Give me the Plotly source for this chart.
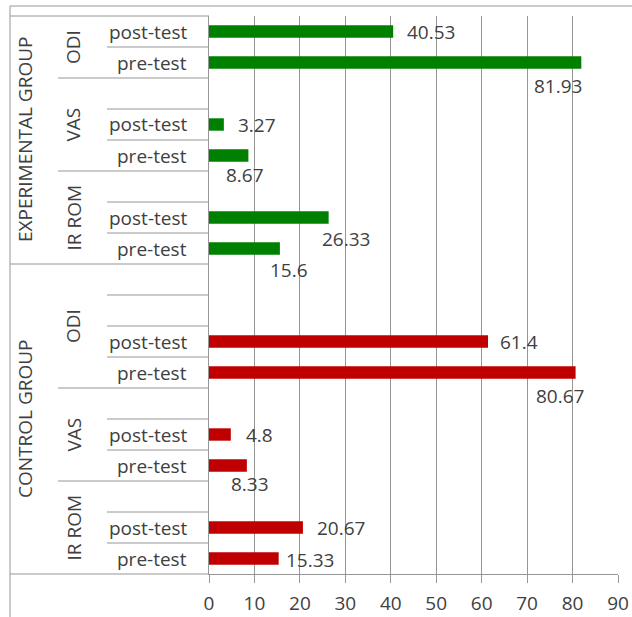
import plotly.graph_objects as go

# Three-level category axis, listed top to bottom
groups = ["EXPERIMENTAL GROUP"] * 8 + ["CONTROL GROUP"] * 10
measures = ["ODI", "ODI", "VAS", "VAS", "VAS", "IR ROM", "IR ROM", "IR ROM",
            "ODI", "ODI", "ODI", "ODI", "VAS", "VAS", "VAS", "IR ROM", "IR ROM", "IR ROM"]
phases = ["post-test", "pre-test", "", "post-test", "pre-test", "", "post-test", "pre-test",
          "", "", "post-test", "pre-test", "", "post-test", "pre-test", "", "post-test", "pre-test"]
values = [40.53, 81.93, None, 3.27, 8.67, None, 26.33, 15.6,
          None, None, 61.4, 80.67, None, 4.8, 8.33, None, 20.67, 15.33]
x_ticks = [0, 10, 20, 30, 40, 50, 60, 70, 80, 90]

# Styling
group_colors = {"EXPERIMENTAL GROUP": "#008000", "CONTROL GROUP": "#C00000"}
# value-label offsets in pixels from the bar end: (dx of label centre, dy downward)
label_offsets = [(38, 0), (-23, 23), None, (33, 0), (-3, 19), None, (17, 21), (9, 21),
                 None, None, (31, 0), (-16, 23), None, (29, 0), (3, 18), None, (38, 0), (31, 1)]

W, H = 632, 617
L, R, T, B = 209, 618, 16, 574
FONT = "Open Sans"
TXT = "#404040"
LINE = "#969696"
FS = 19

n = len(values)
rows = list(range(n))


def xp(px):
    return (px - L) / (R - L)


def yp(py):
    return (B - py) / (B - T)


fig = go.Figure(go.Bar(
    x=values, y=rows, orientation="h", width=0.4,
    marker=dict(color=[group_colors[g] for g in groups], line=dict(width=0)),
    hoverinfo="skip",
))

shapes = []
annotations = []

# separator lines in the category label area
for k in range(n + 1):
    y = 1 - k / n
    if k == 0 or k == n or groups[k - 1] != groups[k]:
        x0 = xp(10)
    elif measures[k - 1] != measures[k]:
        x0 = xp(58)
    else:
        x0 = xp(107)
    shapes.append(dict(type="line", xref="paper", yref="paper", x0=x0, x1=0, y0=y, y1=y,
                       line=dict(color=LINE, width=1)))

# outer chart border (top and left)
shapes.append(dict(type="line", xref="paper", yref="paper", x0=xp(10), x1=xp(W), y0=yp(6), y1=yp(6),
                   line=dict(color=LINE, width=1)))
shapes.append(dict(type="line", xref="paper", yref="paper", x0=xp(10), x1=xp(10), y0=yp(6), y1=yp(H),
                   line=dict(color=LINE, width=1)))


def spans(labels, keys):
    out = []
    start = 0
    for i in range(1, n + 1):
        if i == n or keys[i] != keys[start]:
            out.append((labels[start], start, i))
            start = i
    return out


# level 1 labels
for lab, a, b in spans(groups, groups):
    annotations.append(dict(text=lab, xref="paper", yref="paper", x=xp(25), y=1 - (a + b) / 2 / n,
                            textangle=-90, showarrow=False, xanchor="center", yanchor="middle",
                            font=dict(family=FONT, size=FS, color=TXT)))

# level 2 labels
for lab, a, b in spans(measures, [g + "|" + m for g, m in zip(groups, measures)]):
    annotations.append(dict(text=lab, xref="paper", yref="paper", x=xp(73), y=1 - (a + b) / 2 / n,
                            textangle=-90, showarrow=False, xanchor="center", yanchor="middle",
                            font=dict(family=FONT, size=FS, color=TXT)))

# level 3 labels
for i, lab in enumerate(phases):
    if lab:
        annotations.append(dict(text=lab, xref="paper", yref="paper", x=xp(189), y=1 - (i + 0.5) / n,
                                showarrow=False, xanchor="right", yanchor="middle",
                                font=dict(family=FONT, size=FS, color=TXT)))

# value labels
for i, v in enumerate(values):
    if v is None:
        continue
    dx, dy = label_offsets[i]
    annotations.append(dict(text=f"{v:g}", x=v, y=i, xref="x", yref="y", showarrow=False,
                            xanchor="center", yanchor="middle", xshift=dx, yshift=-dy,
                            font=dict(family=FONT, size=FS, color=TXT)))

fig.update_layout(
    width=W, height=H,
    margin=dict(l=L, r=W - R, t=T, b=H - B, pad=0, autoexpand=False),
    paper_bgcolor="white", plot_bgcolor="white",
    showlegend=False,
    bargap=0.6,
    font=dict(family=FONT, size=FS, color=TXT),
    xaxis=dict(range=[0, 90], tickvals=x_ticks, ticktext=[str(t) for t in x_ticks],
               showgrid=True, gridcolor=LINE, gridwidth=1, zeroline=False,
               showline=True, linecolor=LINE, linewidth=1,
               ticks="outside", ticklen=8, tickcolor=LINE, tickwidth=1,
               ticklabelstandoff=4, automargin=False,
               tickfont=dict(family=FONT, size=FS, color=TXT), fixedrange=True),
    yaxis=dict(range=[n - 0.5, -0.5], showticklabels=False, showgrid=False, zeroline=False,
               showline=True, linecolor=LINE, linewidth=1, ticks="", automargin=False,
               fixedrange=True),
    shapes=shapes,
    annotations=annotations,
)

fig.write_html("out.html", config={"displayModeBar": False})
